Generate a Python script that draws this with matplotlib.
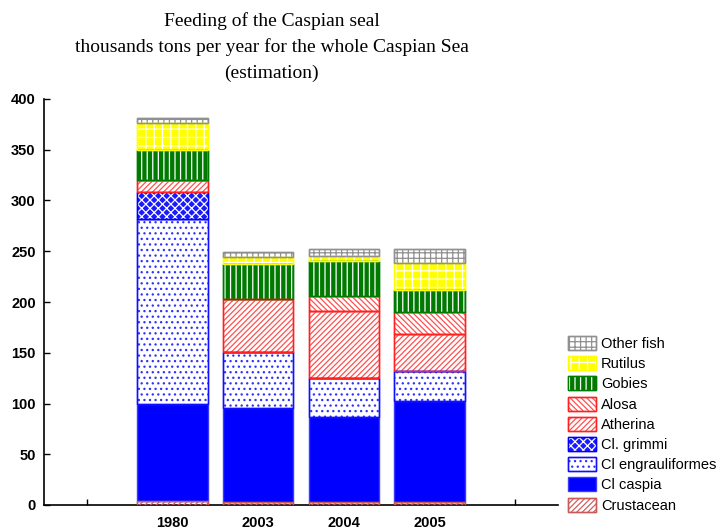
import numpy as np
import matplotlib
matplotlib.use("Agg")
import matplotlib.pyplot as plt
from matplotlib.patches import Patch

# ── Data (thousand tons per year) ─────────────────────────────────────────────
years = ['1980', '2003', '2004', '2005']
crustacean        = [4, 3, 3, 3]
cl_caspia         = [96, 93, 84, 99]
cl_engrauliformes = [182, 55, 38, 30]
cl_grimmi         = [26, 0, 0, 0]
atherina          = [12, 52, 66, 36]
alosa             = [0, 0, 15, 22]
gobies            = [30, 34, 34, 22]
rutilus           = [26, 7, 5, 26]
other_fish        = [5, 5, 7, 14]

series_names = ['Crustacean', 'Cl caspia', 'Cl engrauliformes', 'Cl. grimmi',
                'Atherina', 'Alosa', 'Gobies', 'Rutilus', 'Other fish']
series_vals = [crustacean, cl_caspia, cl_engrauliformes, cl_grimmi,
               atherina, alosa, gobies, rutilus, other_fish]

# face, edge, hatch, hatch colour
STYLE = {
    'Crustacean':        ('white',   '#c85a5a', '//////', '#d06060'),
    'Cl caspia':         ('#0000ff', '#3a3aff', None,     None),
    'Cl engrauliformes': ('white',   '#1010ff', '...',    '#3030ff'),
    'Cl. grimmi':        ('#1a1aff', '#0000ff', 'xxxx',   'white'),
    'Atherina':          ('white',   '#ff2020', '//////', '#ff5050'),
    'Alosa':             ('white',   '#ff2020', '\\\\\\\\\\\\', '#ff5050'),
    'Gobies':            ('#007a00', '#007a00', '|||',    'white'),
    'Rutilus':           ('#ffff00', '#ffff00', '++',     'white'),
    'Other fish':        ('white',   '#909090', '+++',    '#909090'),
}

plt.rcParams['hatch.linewidth'] = 0.9

fig = plt.figure(figsize=(7.27, 5.32), dpi=100)
ax = fig.add_axes([44 / 727, 27 / 532, 514 / 727, 406 / 532])

x = np.arange(1, len(years) + 1)
width = 0.82
bottom = np.zeros(len(years))
handles = {}
for name, vals in zip(series_names, series_vals):
    vals = np.array(vals, dtype=float)
    face, edge, hatch, hcol = STYLE[name]
    ax.bar(x, vals, width, bottom=bottom, color=face, edgecolor=edge,
           linewidth=1.0, zorder=2)
    h = [Patch(facecolor=face, edgecolor=edge, linewidth=1.0)]
    if hatch:
        ax.bar(x, vals, width, bottom=bottom, fill=False, hatch=hatch,
               edgecolor=hcol, linewidth=0, zorder=3)
        h.append(Patch(fill=False, hatch=hatch, edgecolor=hcol, linewidth=0))
        ax.bar(x, vals, width, bottom=bottom, fill=False, edgecolor=edge,
               linewidth=1.0, zorder=4)
        h.append(Patch(fill=False, edgecolor=edge, linewidth=1.0))
    handles[name] = tuple(h)
    bottom += vals

ax.set_xlim(-0.5, 5.5)
ax.set_ylim(0, 400)
ax.set_yticks(np.arange(0, 401, 50))
ax.set_xticks(np.arange(0, 6))
ax.set_xticklabels([''] + years + [''])
ax.tick_params(direction='in', length=4, width=1, labelsize=10.5)
ax.tick_params(axis='x', pad=8)
ax.tick_params(axis='y', pad=6)
for lbl in ax.get_xticklabels() + ax.get_yticklabels():
    lbl.set_fontweight('bold')
    lbl.set_fontfamily('Liberation Sans')
for s in ['top', 'right']:
    ax.spines[s].set_visible(False)
for s in ['left', 'bottom']:
    ax.spines[s].set_linewidth(1.2)

fig.text(0.374, 0.977,
         'Feeding of the Caspian seal\n'
         'thousands tons per year for the whole Caspian Sea\n'
         '(estimation)',
         ha='center', va='top', fontsize=14, family='Liberation Serif',
         linespacing=1.6)

order = list(reversed(series_names))
ax.legend([handles[n] for n in order], order,
          loc='upper left', bbox_to_anchor=(568 / 727, (532 - 336) / 532),
          bbox_transform=fig.transFigure, frameon=False,
          prop={'family': 'Liberation Sans', 'size': 10.5},
          handlelength=1.9, handleheight=1.1, labelspacing=0.36,
          handletextpad=0.35, borderpad=0, borderaxespad=0)

fig.savefig('out.png', dpi=100)
